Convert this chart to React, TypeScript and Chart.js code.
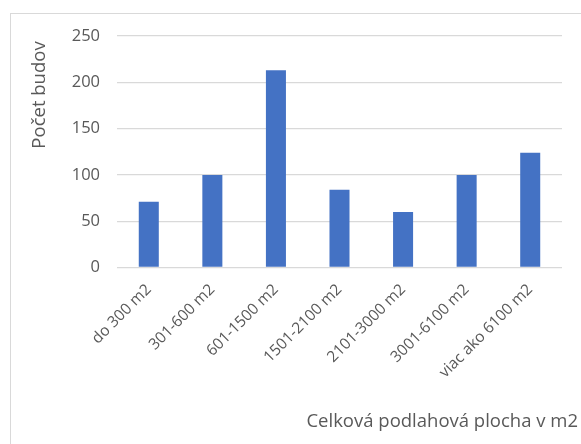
import React, { useEffect, useRef } from "react";
import { Chart, registerables } from "chart.js";

Chart.register(...registerables);

const categories = [
  "do 300 m2",
  "301-600 m2",
  "601-1500 m2",
  "1501-2100 m2",
  "2101-3000 m2",
  "3001-6100 m2",
  "viac ako 6100 m2",
];
const values = [71, 100, 213, 84, 60, 100, 124];
const yTicks = [0, 50, 100, 150, 200, 250];
const yTitle = "Počet budov";
const xTitle = "Celková podlahová plocha v m2";

const FONT = "'Open Sans', 'Noto Sans', sans-serif";
const TEXT = "#595959";

const titlesPlugin = {
  id: "axisTitles",
  afterDraw(chart: any) {
    const ctx = chart.ctx;
    ctx.save();
    ctx.fillStyle = TEXT;
    ctx.font = `18.5px ${FONT}`;
    ctx.textBaseline = "middle";
    // x title, bottom right
    ctx.textAlign = "right";
    ctx.fillText(xTitle, chart.width - 3, 422);
    // y title, rotated
    ctx.translate(40, 95);
    ctx.rotate(-Math.PI / 2);
    ctx.textAlign = "center";
    ctx.fillText(yTitle, 0, 0);
    ctx.restore();
  },
};

export default function App() {
  const ref = useRef<HTMLCanvasElement | null>(null);
  useEffect(() => {
    if (!ref.current) return;
    const chart = new Chart(ref.current, {
      type: "bar",
      data: {
        labels: categories,
        datasets: [
          {
            data: values,
            backgroundColor: "#4472C4",
            borderWidth: 0,
            categoryPercentage: 1,
            barPercentage: 0.315,
          },
        ],
      },
      options: {
        animation: false,
        responsive: false,
        maintainAspectRatio: false,
        layout: { padding: { left: 31, right: 19, top: 36, bottom: 0 } },
        plugins: {
          legend: { display: false },
          tooltip: { enabled: false },
        },
        scales: {
          x: {
            grid: { display: false },
            border: { display: false },
            ticks: {
              color: TEXT,
              font: { family: FONT, size: 15.5 },
              minRotation: 45,
              maxRotation: 45,
              padding: 5,
            },
            afterFit: (s: any) => {
              s.height = 444 - 267.5;
            },
          },
          y: {
            min: 0,
            max: 250,
            afterBuildTicks: (s: any) => {
              s.ticks = yTicks.map((v) => ({ value: v }));
            },
            grid: { color: "#d9d9d9", lineWidth: 1.3, drawTicks: false },
            border: { display: false },
            ticks: {
              color: TEXT,
              font: { family: FONT, size: 16.5 },
              padding: 17,
            },
            afterFit: (s: any) => {
              s.width = 86;
            },
          },
        },
      },
      plugins: [titlesPlugin],
    });
    return () => chart.destroy();
  }, []);

  return (
    <div
      style={{
        position: "fixed",
        left: 0,
        top: 0,
        width: 581,
        height: 444,
        background: "#fff",
        overflow: "hidden",
      }}
    >
      <div
        style={{
          position: "absolute",
          left: 10,
          top: 13,
          width: 600,
          height: 460,
          border: "1.5px solid #d9d9d9",
          boxSizing: "border-box",
        }}
      />
      <canvas
        ref={ref}
        width={581}
        height={444}
        style={{ position: "absolute", left: 0, top: 0, width: 581, height: 444 }}
      />
    </div>
  );
}
